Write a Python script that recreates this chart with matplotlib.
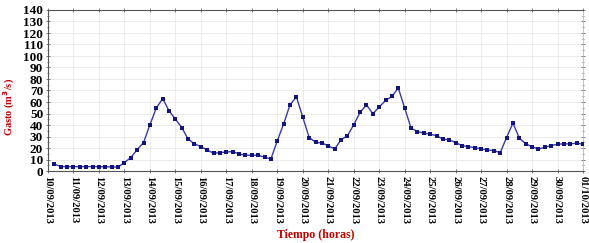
import matplotlib
matplotlib.use("Agg")
import matplotlib.pyplot as plt
import numpy as np
import datetime as dt

# Gasto (m3/s) every 6 hours starting 10/09/2013 06:00
gasto = [6.1, 3.8, 3.8, 3.8, 3.8, 3.8, 3.8, 3.8, 3.6, 3.6, 3.4,
         7.3, 11.7, 18.6, 24.7, 40.2, 54.7, 62.9, 52.4, 45.1, 37.8,
         27.7, 23.6, 21.2, 18.3, 15.4, 16.0, 16.5, 16.9, 14.8, 13.7,
         13.7, 13.7, 12.0, 10.5, 26.2, 41.0, 57.6, 64.4, 46.9, 29.1,
         25.1, 24.2, 22.1, 19.0, 27.1, 30.6, 40.2, 50.9, 57.6, 49.8,
         55.6, 61.4, 64.9, 72.2, 54.8, 37.3, 34.3, 32.9, 32.0, 30.8,
         27.7, 27.1, 24.7, 22.1, 21.2, 20.3, 19.2, 18.3, 17.7, 16.0,
         29.1, 41.7, 28.6, 23.6, 21.2, 19.0, 20.7, 22.1, 23.3, 23.6,
         23.6, 24.2, 23.3]
start = dt.datetime(2013, 9, 10, 6)
tiempo = [start + dt.timedelta(hours=6 * i) for i in range(len(gasto))]

tick_days = [dt.datetime(2013, 9, 10) + dt.timedelta(days=d) for d in range(22)]
tick_labels = [d.strftime("%d/%m/%Y") for d in tick_days]
y_ticks = list(range(0, 141, 10))

plt.rcParams['font.family'] = ['Liberation Serif', 'DejaVu Serif']
plt.rcParams['font.weight'] = 'bold'

fig = plt.figure(figsize=(5.89, 2.43), dpi=100)
ax = fig.add_axes([48 / 589, 1 - 171 / 243, (583 - 48) / 589, (171 - 10) / 243])

ax.plot(tiempo, gasto, color='#3a3aa8', lw=1.0, marker='s', ms=2.6, mew=0,
        mfc='#14147a', zorder=3)

ax.set_xlim(tick_days[0], tick_days[-1])
ax.set_ylim(0, 140)
ax.set_xticks(tick_days)
ax.set_xticklabels(tick_labels, rotation=-90, fontsize=7.6, fontweight='bold')
ax.set_yticks(y_ticks)
ax.set_yticklabels([str(v) for v in y_ticks], fontsize=9.5, fontweight='bold')
ax.yaxis.set_minor_locator(matplotlib.ticker.MultipleLocator(5))

ax.grid(True, which='major', color='#e8e8e8', lw=0.6, zorder=0)
ax.tick_params(axis='both', which='both', direction='inout', top=True, right=True,
               length=3, width=0.6, color='#666666', pad=2)
ax.tick_params(axis='y', which='minor', length=2)
for side in ['left', 'bottom', 'top']:
    ax.spines[side].set_color('#555555')
    ax.spines[side].set_linewidth(0.8)
ax.spines['right'].set_color('#bbbbbb')
ax.spines['right'].set_linewidth(0.6)

ax.set_ylabel('Gasto (m$^\\mathbf{3}$/s)', color='#c00000', fontsize=7.5, fontweight='bold')
ax.yaxis.set_label_coords(-0.058, 0.40)
ax.set_xlabel('Tiempo (horas)', color='#c00000', fontsize=8.5, fontweight='bold')
ax.xaxis.set_label_coords(0.5, -0.36)

fig.savefig('out.png', dpi=100)
